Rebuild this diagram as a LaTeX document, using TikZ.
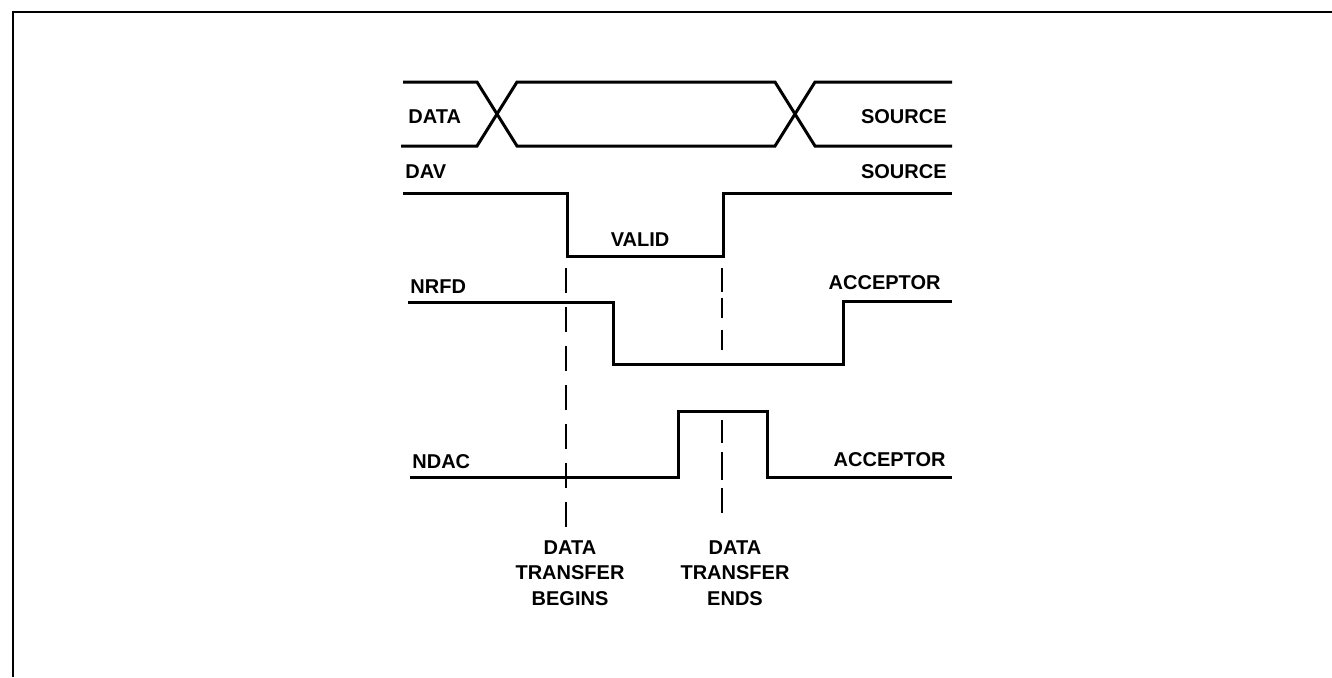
\documentclass[tikz,border=0pt]{standalone}
\usepackage{fontspec}
\setmainfont{Liberation Sans}
\begin{document}
\begin{tikzpicture}[x=0.5pt,y=-0.5pt,
  sig/.style={line width=1.5pt,line join=miter},
  frame/.style={line width=1.2pt},
  marker/.style={line width=1.2pt,dash pattern=on 12.6pt off 6.9pt},
  lbl/.style={font=\bfseries\fontsize{10}{12.75}\selectfont,inner sep=0pt},
  note/.style={lbl,align=center,anchor=north}]
\useasboundingbox (0,0) rectangle (1332,677);
% frame
\draw[frame] (13,677) -- (13,12) -- (1332,12);
% DATA bus
\draw[sig] (403,82) -- (477,82) -- (517,146) -- (775,146) -- (815,82) -- (952,82);
\draw[sig] (401,146) -- (477,146) -- (517,82) -- (775,82) -- (815,146) -- (952,146);
\node[lbl,anchor=west] (ldata) at (408,117) {DATA};
\node[lbl,anchor=east] (sdata) at (947,117) {SOURCE};
% DAV
\draw[sig] (403,193) -- (567,193) -- (567,256) -- (723,256) -- (723,193) -- (952,193);
\node[lbl,anchor=west] (ldav) at (405,172) {DAV};
\node[lbl,anchor=east] (sdav) at (947,172) {SOURCE};
\node[lbl] (valid) at (640,240) {VALID};
% NRFD
\draw[sig] (408,302) -- (613,302) -- (613,364) -- (843,364) -- (843,301) -- (952,301);
\node[lbl,anchor=west] (lnrfd) at (410,287) {NRFD};
\node[lbl,anchor=east] (anrfd) at (941,283) {ACCEPTOR};
% NDAC
\draw[sig] (410,477) -- (678,477) -- (678,411) -- (767,411) -- (767,477) -- (952,477);
\node[lbl,anchor=west] (lndac) at (412,462) {NDAC};
\node[lbl,anchor=east] (andac) at (946,460) {ACCEPTOR};
% markers
\coordinate (b1) at (566,268);
\coordinate (b2) at (566,528);
\coordinate (e1) at (722,268);
\coordinate (e2) at (722,350);
\coordinate (e3) at (722,420);
\coordinate (e4) at (722,513);
\draw[marker] (b1) -- (b2);
\draw[line width=1.2pt,dash pattern=on 12pt off 3pt on 10pt off 6pt on 10pt off 10pt] (e1) -- (e2);
\draw[line width=1.2pt,dash pattern=on 11.5pt off 4.5pt on 14pt off 4pt on 12.5pt off 10pt] (e3) -- (e4);
\node[note] (begins) at (570,540) {DATA\\TRANSFER\\BEGINS};
\node[note] (ends) at (735,540) {DATA\\TRANSFER\\ENDS};
\end{tikzpicture}
\end{document}
